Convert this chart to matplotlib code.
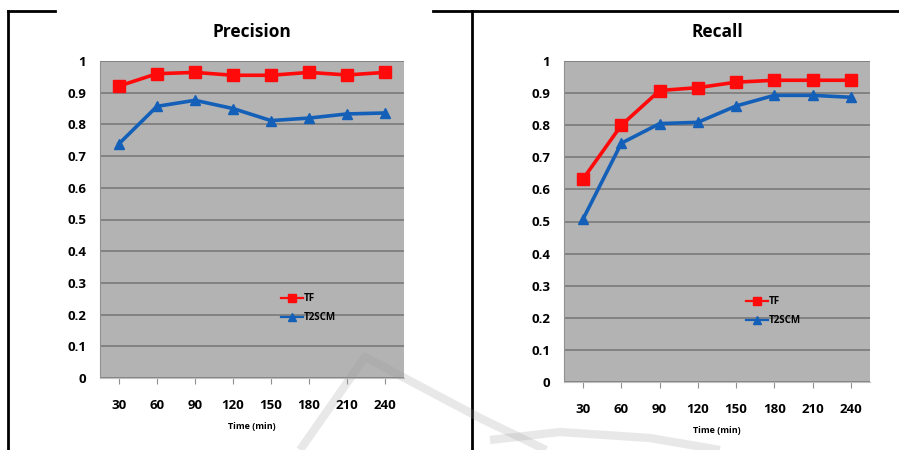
import matplotlib.pyplot as plt
from matplotlib.lines import Line2D

# data
times = [30, 60, 90, 120, 150, 180, 210, 240]
precision_tf = [0.921, 0.960, 0.964, 0.955, 0.955, 0.964, 0.956, 0.964]
precision_t2scm = [0.739, 0.857, 0.876, 0.850, 0.812, 0.820, 0.833, 0.836]
recall_tf = [0.633, 0.800, 0.908, 0.917, 0.934, 0.940, 0.940, 0.940]
recall_t2scm = [0.508, 0.744, 0.805, 0.809, 0.860, 0.893, 0.893, 0.887]
y_ticks = [0, 0.1, 0.2, 0.3, 0.4, 0.5, 0.6, 0.7, 0.8, 0.9, 1]
y_labels = ['0', '0.1', '0.2', '0.3', '0.4', '0.5', '0.6', '0.7', '0.8', '0.9', '1']

W, H = 899, 450
RED = '#ff0a0a'
BLUE = '#1460b8'
plt.rcParams['font.family'] = ['Open Sans', 'DejaVu Sans']

fig = plt.figure(figsize=(W / 100, H / 100), dpi=100)


def px_axes(x0, y0, x1, y1):
    """Axes from pixel box (top-left origin)."""
    return fig.add_axes([x0 / W, 1 - y1 / H, (x1 - x0) / W, (y1 - y0) / H])


def draw_panel(ax, title, tf, t2, legend_xy):
    idx = list(range(1, len(times) + 1))
    ax.set_facecolor('#b3b3b3')
    ax.plot(idx, tf, color=RED, lw=2.6, marker='s', ms=8, label='TF', zorder=3)
    ax.plot(idx, t2, color=BLUE, lw=2.6, marker='^', ms=7, label='T2SCM', zorder=3)
    ax.set_xlim(0.5, len(times) + 0.5)
    ax.set_ylim(0, 1)
    ax.set_yticks(y_ticks)
    ax.set_yticklabels(y_labels, fontsize=9.5, fontweight='bold')
    ax.set_xticks(idx)
    ax.set_xticklabels([str(t) for t in times], fontsize=9.5, fontweight='bold')
    ax.tick_params(axis='y', length=0, pad=10)
    ax.tick_params(axis='x', length=4, width=0.8, color='#909090', pad=11)
    ax.grid(axis='y', color='#7a7a7a', lw=1.2)
    ax.set_axisbelow(True)
    for side in ['top', 'right']:
        ax.spines[side].set_visible(False)
    ax.spines['left'].set_color('#909090')
    ax.spines['bottom'].set_color('#c0c0c0')
    ax.set_xlabel('Time (min)', fontsize=6.5, fontweight='bold', labelpad=7)
    ax.set_title(title, fontsize=12.5, fontweight='bold', pad=17)
    leg = ax.legend(loc='center left', bbox_to_anchor=legend_xy, frameon=False,
                    fontsize=7, handlelength=2.2, handletextpad=0.1,
                    labelspacing=0.8, borderpad=0)
    for h in leg.legend_handles:
        h.set_linewidth(1.6)
        h.set_markersize(5.5)
    for t in leg.get_texts():
        t.set_fontweight('bold')


ax1 = px_axes(100, 61, 404, 378)
draw_panel(ax1, 'Precision', precision_tf, precision_t2scm, (0.58, 0.22))

ax2 = px_axes(564, 61, 870, 382)
draw_panel(ax2, 'Recall', recall_tf, recall_t2scm, (0.58, 0.22))

# faint watermark strokes
wm = dict(color='#9a9a9a', alpha=0.22, lw=6, solid_capstyle='butt',
          transform=fig.transFigure, zorder=10)
fig.add_artist(Line2D([300 / W, 365 / W, 480 / W, 546 / W],
                      [1 - 450 / H, 1 - 357 / H, 1 - 418 / H, 1 - 450 / H], **wm))
fig.add_artist(Line2D([490 / W, 560 / W, 650 / W, 720 / W],
                      [1 - 440 / H, 1 - 432 / H, 1 - 438 / H, 1 - 450 / H], **wm))

# panel frame lines
frame = dict(color='black', lw=2, transform=fig.transFigure)
fig.add_artist(Line2D([8 / W, 8 / W], [1 - 11 / H, 0], **frame))
fig.add_artist(Line2D([8 / W, 55 / W], [1 - 11 / H, 1 - 11 / H], **frame))
fig.add_artist(Line2D([433 / W, 1], [1 - 11 / H, 1 - 11 / H], **frame))
fig.add_artist(Line2D([472 / W, 472 / W], [1 - 11 / H, 0], **frame))

fig.savefig('out.png', dpi=100)
